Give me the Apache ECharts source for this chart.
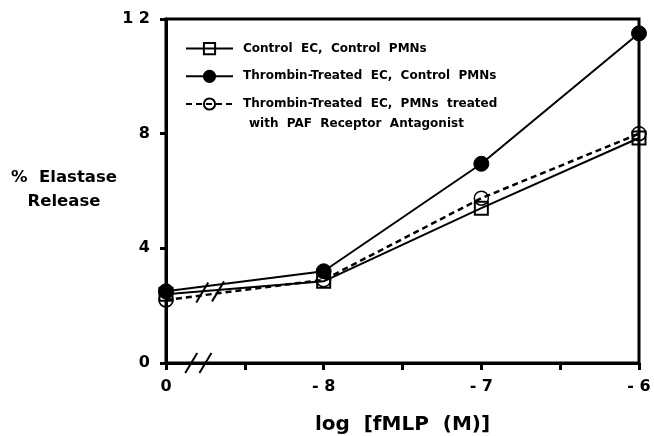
<!DOCTYPE html>
<html>
<head>
<meta charset="utf-8">
<script src="https://cdn.jsdelivr.net/npm/echarts@6/dist/echarts.min.js"></script>
<style>
  html, body { margin: 0; padding: 0; background: #fff; }
  #chart { width: 654px; height: 436px; }
</style>
</head>
<body>
<div id="chart"></div>
<script>
// x positions on the broken log axis: 0, -8, -7, -6
var xPositions = [0, 1, 2, 3];
var xTickLabels = ['0', '- 8', '- 7', '- 6'];
var yTickLabels = ['0', '4', '8', '1 2'];

var controlEC = [2.4, 2.85, 5.4, 7.85];
var thrombinEC = [2.5, 3.2, 6.95, 11.5];
var thrombinPAF = [2.2, 2.9, 5.75, 8.0];

var seriesNames = [
    'Control  EC,  Control  PMNs',
    'Thrombin-Treated  EC,  Control  PMNs',
    'Thrombin-Treated  EC,  PMNs  treated'
];
var legendSecondLine = 'with  PAF  Receptor  Antagonist';

var FONT = '"DejaVu Sans", "Liberation Sans", Arial, sans-serif';

function pairs(ys) {
    return xPositions.map(function(x, i) { return [x, ys[i]]; });
}

var chart = echarts.init(document.getElementById('chart'), null, {renderer: 'canvas'});

var option = {
    animation: false,
    backgroundColor: '#fff',
    grid: {
        left: 166, right: 15, top: 19, bottom: 73,
        outerBoundsMode: 'none',
        show: true, borderColor: '#000', borderWidth: 3
    },
    legend: {
        orient: 'vertical',
        left: 180, top: 37,
        itemWidth: 47, itemHeight: 14, itemGap: 14.5,
        textStyle: {fontFamily: FONT, fontWeight: 'bold', fontSize: 12, color: '#000', padding: [0, 0, 0, 5]},
        data: seriesNames
    },
    xAxis: {
        type: 'value', min: 0, max: 3, interval: 0.5,
        splitLine: {show: false},
        axisLine: {lineStyle: {color: '#000', width: 3}},
        axisTick: {length: 7, lineStyle: {color: '#000', width: 3}},
        axisLabel: {
            margin: 16, color: '#000', fontFamily: FONT, fontWeight: 'bold', fontSize: 16,
            formatter: function(v) { return v % 1 === 0 ? xTickLabels[v] : ''; }
        },
        name: 'log  [fMLP  (M)]',
        nameLocation: 'middle', nameGap: 52,
        nameTextStyle: {color: '#000', fontFamily: FONT, fontWeight: 'bold', fontSize: 20}
    },
    yAxis: {
        type: 'value', min: 0, max: 12, interval: 4,
        splitLine: {show: false},
        axisLine: {lineStyle: {color: '#000', width: 3}},
        axisTick: {length: 6, lineStyle: {color: '#000', width: 3}},
        axisLabel: {
            margin: 16, color: '#000', fontFamily: FONT, fontWeight: 'bold', fontSize: 16,
            formatter: function(v) { return yTickLabels[v / 4]; }
        }
    },
    series: [
        {
            name: seriesNames[0], type: 'line', data: pairs(controlEC),
            symbol: 'rect', symbolSize: 13,
            lineStyle: {color: '#000', width: 2},
            itemStyle: {color: 'transparent', borderColor: '#000', borderWidth: 2}
        },
        {
            name: seriesNames[1], type: 'line', data: pairs(thrombinEC),
            symbol: 'circle', symbolSize: 15,
            lineStyle: {color: '#000', width: 2},
            itemStyle: {color: '#000', borderColor: '#000', borderWidth: 1}
        },
        {
            name: seriesNames[2], type: 'line', data: pairs(thrombinPAF),
            symbol: 'circle', symbolSize: 14,
            lineStyle: {color: '#000', width: 2.5, type: [6, 4]},
            itemStyle: {color: 'transparent', borderColor: '#000', borderWidth: 1.5}
        }
    ],
    graphic: [{
        type: 'text',
        style: {
            x: 64, y: 190, text: '%  Elastase\nRelease', fill: '#000',
            font: 'bold 16.5px ' + FONT, lineHeight: 24, align: 'center', verticalAlign: 'middle'
        }
    }]
};
chart.setOption(option);

// second line of the third legend entry, placed under its first line
var extra = [{
    type: 'text',
    style: {
        x: 185 + 47 + 5 + 12, y: 124,
        text: legendSecondLine, fill: '#000',
        font: 'bold 12px ' + FONT, verticalAlign: 'middle'
    }
}];

// axis break marks "//" drawn next to the 0 position
var breakAxisX = [0.16, 0.25];
var breakLineX = [0.23, 0.33];
function slash(p) {
    return {
        type: 'line', silent: true,
        shape: {x1: p[0] - 6, y1: p[1] + 10, x2: p[0] + 6, y2: p[1] - 10},
        style: {stroke: '#000', lineWidth: 2}
    };
}
breakAxisX.forEach(function(bx) {
    extra.push(slash(chart.convertToPixel({gridIndex: 0}, [bx, 0])));
});
breakLineX.forEach(function(bx) {
    var t = bx - xPositions[0];
    var yb = (controlEC[0] + thrombinEC[0] + thrombinPAF[0]) / 3 + t * 0.4;
    extra.push(slash(chart.convertToPixel({gridIndex: 0}, [bx, yb])));
});
chart.setOption({graphic: option.graphic.concat(extra)});
</script>
</body>
</html>
